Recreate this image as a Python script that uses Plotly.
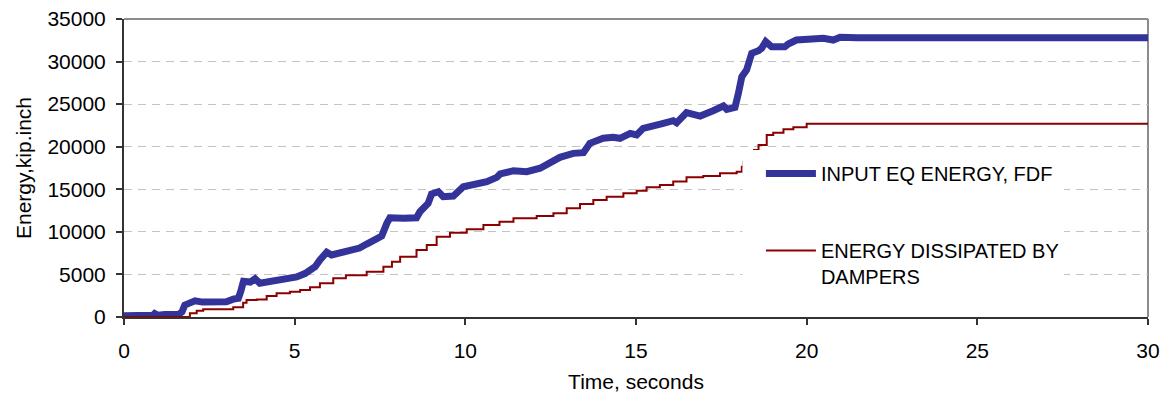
import plotly.graph_objects as go

# Input earthquake energy (FDF), time in seconds, energy in kip.inch
t_input = [0, 0.5, 0.85, 0.9, 1.0, 1.2, 1.6, 1.7, 1.78, 1.9, 2.08, 2.3, 2.7, 2.9, 3.0, 3.2, 3.35,
           3.42, 3.5, 3.7, 3.84, 3.98, 4.3, 4.57, 4.8, 5.06, 5.3, 5.45, 5.6, 5.74, 5.94, 6.08, 6.42,
           6.72, 6.9, 7.11, 7.4, 7.55, 7.7, 7.79, 8.2, 8.57, 8.67, 8.91, 9.01, 9.21, 9.35, 9.65,
           9.94, 10.23, 10.63, 10.92, 11.02, 11.41, 11.8, 12.19, 12.48, 12.77, 13.16, 13.46, 13.65,
           14.04, 14.33, 14.53, 14.83, 15.02, 15.21, 15.51, 15.8, 16.09, 16.19, 16.48, 16.88, 17.26,
           17.56, 17.66, 17.9, 18.0, 18.1, 18.24, 18.39, 18.59, 18.68, 18.8, 18.97, 19.36, 19.46,
           19.7, 20.49, 20.78, 20.98, 21.5, 30]
e_input = [150, 150, 200, 400, 200, 300, 300, 600, 1400, 1600, 1900, 1750, 1750, 1900, 1800, 2100, 2200,
           3000, 4200, 4100, 4500, 3960, 4200, 4300, 4500, 4700, 5100, 5400, 5900, 6700, 7600, 7280, 7670,
           7870, 8100, 8570, 9040, 9500, 11000, 11660, 11600, 11660, 12370, 13350, 14450, 14720, 14130, 14210,
           15300, 15500, 15900, 16400, 16800, 17180, 17070, 17470, 18120, 18750, 19220, 19300, 20400,
           20990, 21100, 20990, 21570, 21380, 22160, 22550, 22750, 23060, 22800, 24000, 23600, 24230,
           24780, 24390, 24630, 26270, 28220, 29010, 30970, 31280, 31560, 32340, 31750, 31750, 32060,
           32530, 32730, 32530, 32850, 32800, 32800]

# Energy dissipated by dampers
t_damp = [0, 1.84, 1.93, 2.13, 2.32, 3.2, 3.49, 3.59, 3.89, 4.18, 4.47, 4.86, 5.16, 5.45, 5.74, 6.13,
          6.5, 7.11, 7.6, 7.85, 8.09, 8.57, 8.87, 9.16, 9.55, 10.04, 10.53, 11.0, 11.41, 12.09, 12.58,
          12.97, 13.36, 13.75, 14.14, 14.63, 15.02, 15.31, 15.7, 16.09, 16.48, 16.97, 17.46, 17.95,
          18.1, 18.15, 18.3, 18.46, 18.59, 18.83, 19.02, 19.32, 19.61, 20.0, 30]
e_damp = [0, 0, 430, 740, 900, 1140, 1680, 2000, 2070, 2470, 2780, 2970, 3170, 3480, 3950, 4540,
          4900, 5320, 5910, 6500, 7080, 7870, 8460, 9430, 9900, 10300, 10800, 11190, 11590, 11860, 12180,
          12770, 13270, 13740, 14130, 14530, 14840, 15230, 15500, 15900, 16400, 16560, 16880, 17070,
          17650, 18240, 19000, 19610, 20200, 21380, 21650, 22050, 22280, 22700, 22700]

x_ticks = [0, 5, 10, 15, 20, 25, 30]
y_ticks = [0, 5000, 10000, 15000, 20000, 25000, 30000, 35000]
y_tick_labels = [str(v) for v in y_ticks]

FONT = "Liberation Sans, Arial, sans-serif"

fig = go.Figure()
fig.add_trace(go.Scatter(x=t_input, y=e_input, mode="lines", name="INPUT EQ ENERGY, FDF",
                         line=dict(color="#333399", width=7), legendgroup="a"))
fig.add_trace(go.Scatter(x=t_damp, y=e_damp, mode="lines", name="ENERGY DISSIPATED BY<br>DAMPERS",
                         line=dict(color="#8B0000", width=2, shape="hv"), legendgroup="b"))

fig.update_layout(
    width=1162, height=394,
    margin=dict(l=124, r=14, t=19, b=77),
    paper_bgcolor="white", plot_bgcolor="white",
    font=dict(family=FONT, size=21, color="black"),
    showlegend=True,
    legend=dict(x=0.622, y=0.547, xanchor="left", yanchor="top",
                bgcolor="white", borderwidth=0,
                font=dict(family=FONT, size=20, color="black"),
                traceorder="grouped", tracegroupgap=48, valign="top",
                itemwidth=50),
    xaxis=dict(range=[0, 30], tickvals=x_ticks, ticks="outside", ticklen=6, tickwidth=1.5,
               tickcolor="#333333", showline=True, linecolor="#333333", linewidth=2,
               showgrid=False, zeroline=False, ticklabelstandoff=8, automargin=False,
               ticklabeloverflow="allow",
               title=dict(text="Time, seconds", standoff=13, font=dict(size=21))),
    yaxis=dict(range=[0, 35000], tickvals=y_ticks, ticktext=y_tick_labels, ticks="outside",
               ticklen=6, tickwidth=1.5,
               tickcolor="#333333", showline=True, linecolor="#333333", linewidth=2,
               showgrid=True, gridcolor="#C4C4C4", gridwidth=1, griddash="8px,6px",
               zeroline=False, ticklabelstandoff=6, automargin=False,
               ticklabeloverflow="allow",
               title=dict(text="Energy,kip.inch", standoff=10, font=dict(size=21))),
    shapes=[
        dict(type="line", xref="paper", yref="paper", x0=0, x1=1, y0=1, y1=1,
             line=dict(color="#8C8C8C", width=2), layer="below"),
        dict(type="line", xref="paper", yref="paper", x0=1, x1=1, y0=0, y1=1,
             line=dict(color="#8C8C8C", width=2), layer="below"),
        # white backing that extends the legend box to the left
        dict(type="rect", xref="paper", yref="paper", x0=0.604, x1=0.625, y0=0.07, y1=0.56,
             fillcolor="white", line=dict(width=0), layer="above"),
    ],
)

# remove the default 8px page margin so the figure fills the window exactly
fig.write_html("out.html", config={"displayModeBar": False},
               post_script="document.body.style.margin='0px';document.body.style.overflow='hidden';")
